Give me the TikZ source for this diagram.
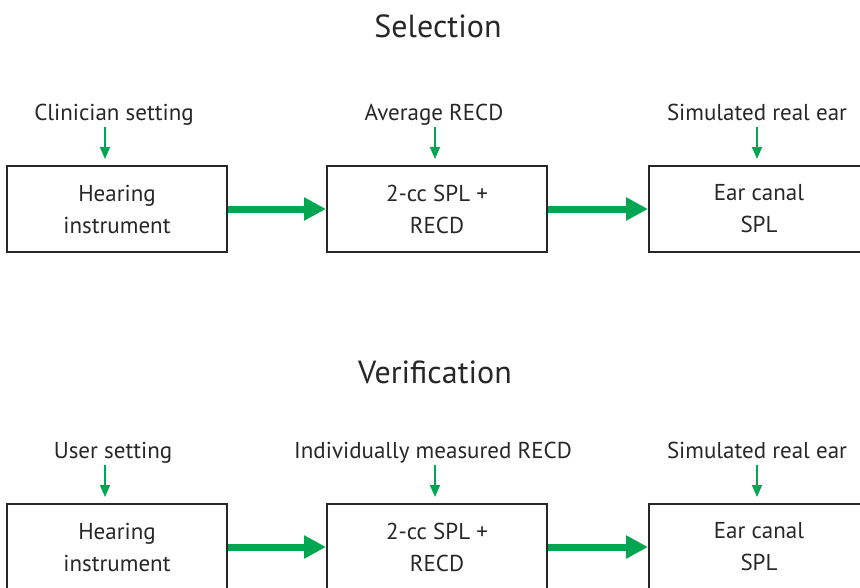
\documentclass[tikz,border=0pt]{standalone}
\usepackage{fontspec}
\setmainfont{PT Sans}
\usetikzlibrary{arrows.meta}
\definecolor{flowgreen}{RGB}{0,166,81}
\definecolor{inkgray}{RGB}{40,38,38}

\begin{document}
\begin{tikzpicture}[
    x=1pt,y=-1pt,
    >=Triangle,
    text=inkgray,
    box/.style={
        draw=inkgray, line width=2pt,
        rectangle,
        minimum width=220pt,
        minimum height=86pt,
        align=center,
        font=\fontsize{23}{32}\selectfont
    },
    lbl/.style={
        inner sep=0pt,
        anchor=base,
        font=\fontsize{23}{26}\selectfont
    },
    ttl/.style={
        inner sep=0pt,
        anchor=base,
        font=\fontsize{32}{36}\selectfont
    },
    feed/.style={
        draw=flowgreen, line width=1.4pt,
        -{Triangle[length=12pt,width=10pt]},
        shorten >=6pt
    },
    flow/.style={
        draw=flowgreen, line width=7pt,
        -{Triangle[length=22pt,width=22pt]}
    }
]
\useasboundingbox (0,0) rectangle (860,587);
\clip (0,0) rectangle (860,587);

% ====== Selection ======
\node[ttl] (sel) at (438,37) {Selection};

\node[box] (hi1) at (117,209) {Hearing\\instrument};
\node[box] (spl1) at (437,209) {2-cc SPL +\\RECD};
\node[box] (ear1) at (759,209) {Ear canal\\SPL};

\node[lbl] (clin) at (114,120) {Clinician setting};
\node[lbl] (avg) at (434,120) {Average RECD};
\node[lbl] (sim1) at (757,120) {Simulated real ear};

\coordinate (c1) at (105,127);
\coordinate (c2) at (435,127);
\coordinate (c3) at (757,127);

\draw[feed] (c1) -- (c1 |- hi1.north);
\draw[feed] (c2) -- (c2 |- spl1.north);
\draw[feed] (c3) -- (c3 |- ear1.north);

\draw[flow] (hi1) -- (spl1);
\draw[flow] (spl1) -- (ear1);

% ====== Verification ======
\node[ttl] (ver) at (435,383) {Verification};

\node[box] (hi2) at (117,547) {Hearing\\instrument};
\node[box] (spl2) at (437,547) {2-cc SPL +\\RECD};
\node[box] (ear2) at (759,547) {Ear canal\\SPL};

\node[lbl] (user) at (113,458) {User setting};
\node[lbl] (ind) at (433,458) {Individually measured RECD};
\node[lbl] (sim2) at (757,458) {Simulated real ear};

\coordinate (d1) at (105,465);
\coordinate (d2) at (435,465);
\coordinate (d3) at (757,465);

\draw[feed] (d1) -- (d1 |- hi2.north);
\draw[feed] (d2) -- (d2 |- spl2.north);
\draw[feed] (d3) -- (d3 |- ear2.north);

\draw[flow] (hi2) -- (spl2);
\draw[flow] (spl2) -- (ear2);

\end{tikzpicture}
\end{document}
